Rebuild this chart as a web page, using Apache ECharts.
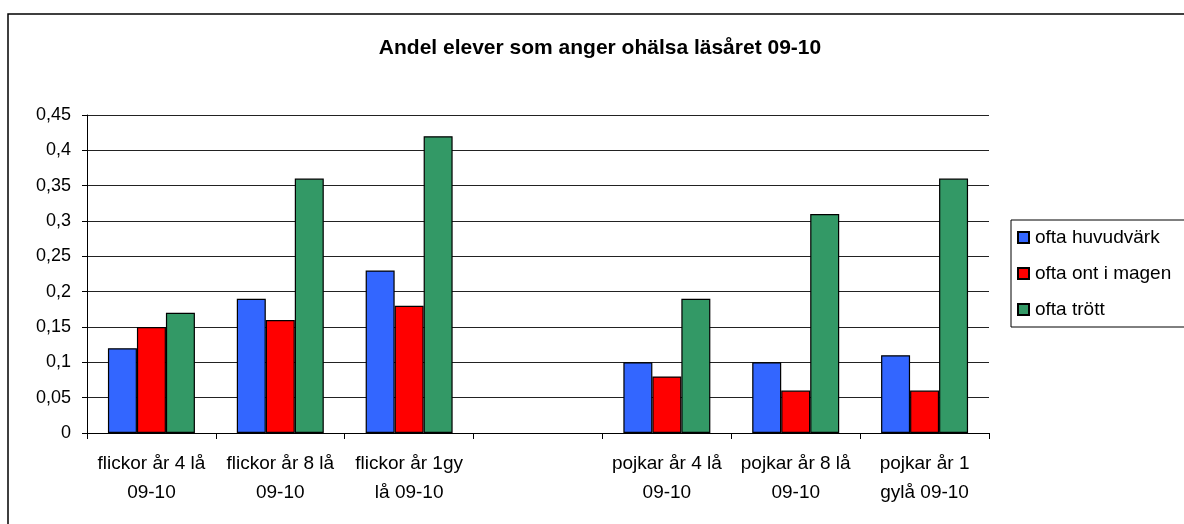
<!DOCTYPE html>
<html>
<head>
<meta charset="utf-8">
<script src="https://cdn.jsdelivr.net/npm/echarts@6/dist/echarts.min.js"></script>
<style>
  html, body { margin: 0; padding: 0; background: #fff; }
  #chart { width: 1184px; height: 524px; }
</style>
</head>
<body>
<div id="chart"></div>
<script>
// data
const categories = ['flickor år 4 lå\n09-10', 'flickor år 8 lå\n09-10', 'flickor år 1gy\nlå 09-10', '',
  'pojkar år 4 lå\n09-10', 'pojkar år 8 lå\n09-10', 'pojkar år 1\ngylå 09-10'];
const seriesNames = ['ofta huvudvärk', 'ofta ont i magen', 'ofta trött'];
const huvudvark = [0.12, 0.19, 0.23, null, 0.10, 0.10, 0.11];
const ontMagen = [0.15, 0.16, 0.18, null, 0.08, 0.06, 0.06];
const trott = [0.17, 0.36, 0.42, null, 0.19, 0.31, 0.36];
const colors = ['#3366FF', '#FF0000', '#339966'];

const font = 'Liberation Sans, Arial, sans-serif';
const chart = echarts.init(document.getElementById('chart'));

const makeBar = (name, data, i) => ({
    name: name,
    type: 'bar',
    data: data,
    barGap: 0,
    barCategoryGap: '32.5%',
    itemStyle: { color: colors[i], borderColor: '#000', borderWidth: 1.2 }
});

chart.setOption({
    animation: false,
    backgroundColor: '#fff',
    textStyle: { fontFamily: font },
    graphic: [{
        type: 'rect',
        shape: { x: 8, y: 14, width: 1300, height: 700 },
        style: { fill: 'none', stroke: '#000', lineWidth: 1.5 },
        silent: true
    }],
    title: {
        text: 'Andel elever som anger ohälsa läsåret 09-10',
        left: 595,
        textAlign: 'center',
        top: 33,
        textStyle: { fontSize: 21, fontWeight: 'bold', color: '#000', fontFamily: font }
    },
    legend: {
        orient: 'vertical',
        left: 1011,
        top: 220,
        padding: [8, 20, 8, 6],
        itemGap: 17,
        itemWidth: 11,
        itemHeight: 11,
        borderColor: '#000',
        borderWidth: 1,
        icon: 'rect',
        textStyle: { fontSize: 19, color: '#000', fontFamily: font, padding: [0, 0, 0, 1] },
        data: seriesNames
    },
    grid: { left: 87, right: 195, top: 115, bottom: 91 },
    xAxis: {
        type: 'category',
        data: categories,
        axisLine: { lineStyle: { color: '#000', width: 1 } },
        axisTick: { show: true, length: 6, lineStyle: { color: '#000' } },
        axisLabel: { color: '#000', fontSize: 19, lineHeight: 29, margin: 16, interval: 0, fontFamily: font }
    },
    yAxis: {
        type: 'value',
        min: 0,
        max: 0.45,
        interval: 0.05,
        axisLine: { show: true, lineStyle: { color: '#000', width: 1 } },
        axisTick: { show: true, length: 5, lineStyle: { color: '#000' } },
        splitLine: { lineStyle: { color: '#222', width: 1 } },
        axisLabel: {
            color: '#000', fontSize: 18, margin: 16, fontFamily: font,
            formatter: v => String(Math.round(v * 100) / 100).replace('.', ',')
        }
    },
    series: [
        makeBar(seriesNames[0], huvudvark, 0),
        makeBar(seriesNames[1], ontMagen, 1),
        makeBar(seriesNames[2], trott, 2)
    ]
});
</script>
</body>
</html>
